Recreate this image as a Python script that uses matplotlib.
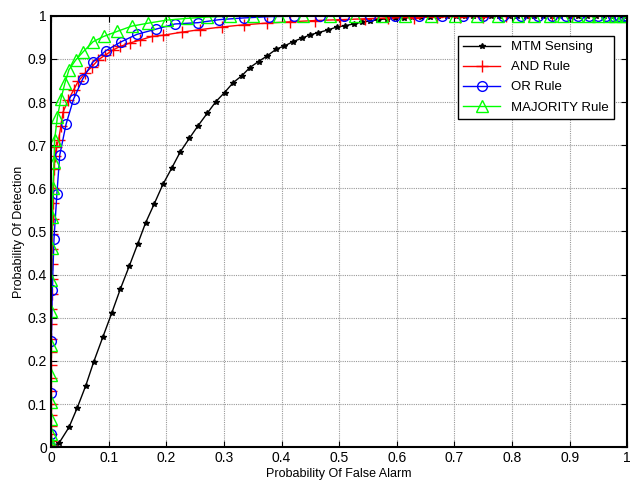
import matplotlib
matplotlib.use("Agg")
import matplotlib.pyplot as plt

plt.rcParams['font.family'] = ['Liberation Sans', 'DejaVu Sans']

# MTM sensing, single user
mtm_pf = [0, 0.014, 0.031, 0.045, 0.060, 0.074, 0.090, 0.105, 0.120, 0.136,
          0.150, 0.164, 0.179, 0.194, 0.209, 0.224, 0.240, 0.255, 0.271, 0.286,
          0.301, 0.316, 0.331, 0.345, 0.360, 0.375, 0.391, 0.405, 0.420, 0.435,
          0.450, 0.464, 0.480, 0.496, 0.510, 0.525, 0.539, 0.554, 0.568, 0.583,
          0.597, 0.612, 0.627, 0.642, 0.657, 0.672, 0.688, 0.703, 0.718, 0.733,
          0.748, 0.763, 0.778, 0.794, 0.809, 0.824, 0.839, 0.854, 0.869, 0.884,
          0.900, 0.915, 0.930, 0.945, 0.960, 0.975, 0.990, 1.0]
mtm_pd = [0, 0.010, 0.046, 0.090, 0.142, 0.198, 0.256, 0.310, 0.366, 0.421,
          0.470, 0.520, 0.564, 0.609, 0.646, 0.684, 0.716, 0.745, 0.774, 0.801,
          0.822, 0.845, 0.861, 0.880, 0.894, 0.907, 0.923, 0.930, 0.940, 0.948,
          0.956, 0.961, 0.967, 0.974, 0.977, 0.981, 0.985, 0.988, 0.991, 0.993,
          0.995, 0.996, 0.997, 0.998, 0.998, 0.999, 0.999, 0.999, 1.0, 1.0,
          1.0, 1.0, 1.0, 1.0, 1.0, 1.0, 1.0, 1.0, 1.0, 1.0,
          1.0, 1.0, 1.0, 1.0, 1.0, 1.0, 1.0, 1.0]

# AND rule
and_pf = [0, 0, 0, 0, 0, 0, 0, 0, 0, 0,
          0, 0, 0.0005, 0.0005, 0.001, 0.001, 0.0015, 0.002, 0.002, 0.003,
          0.003, 0.004, 0.005, 0.007, 0.009, 0.013, 0.017, 0.021, 0.030, 0.039,
          0.047, 0.059, 0.071, 0.082, 0.094, 0.108, 0.120, 0.137, 0.155, 0.175,
          0.195, 0.227, 0.259, 0.296, 0.334, 0.374, 0.415, 0.458, 0.502, 0.545,
          0.585, 0.630, 0.670, 0.710, 0.750, 0.790, 0.830, 0.870, 0.905, 0.940,
          0.970, 1.0]
and_pd = [0, 0.005, 0.015, 0.030, 0.050, 0.075, 0.100, 0.130, 0.160, 0.190,
          0.220, 0.250, 0.285, 0.320, 0.355, 0.390, 0.425, 0.460, 0.495, 0.530,
          0.565, 0.600, 0.644, 0.675, 0.695, 0.712, 0.745, 0.778, 0.805, 0.828,
          0.848, 0.867, 0.882, 0.898, 0.909, 0.921, 0.929, 0.937, 0.944, 0.952,
          0.955, 0.962, 0.968, 0.974, 0.979, 0.983, 0.986, 0.989, 0.991, 0.993,
          0.995, 0.996, 0.997, 0.998, 0.998, 0.999, 0.999, 1.0, 1.0, 1.0,
          1.0, 1.0]

# OR rule
or_pf = [0, 0, 0, 0.0005, 0.002, 0.005, 0.010, 0.015, 0.026, 0.039,
         0.055, 0.072, 0.095, 0.122, 0.149, 0.182, 0.215, 0.255, 0.292, 0.334,
         0.379, 0.422, 0.466, 0.509, 0.553, 0.597, 0.638, 0.678, 0.715, 0.750,
         0.785, 0.815, 0.845, 0.870, 0.893, 0.915, 0.934, 0.950, 0.964, 0.976,
         0.986, 0.994, 1.0]
or_pd = [0, 0.030, 0.125, 0.245, 0.365, 0.482, 0.587, 0.677, 0.749, 0.807,
         0.854, 0.892, 0.919, 0.940, 0.957, 0.969, 0.981, 0.984, 0.991, 0.995,
         0.998, 0.999, 1.0, 1.0, 1.0, 1.0, 1.0, 1.0, 1.0, 1.0,
         1.0, 1.0, 1.0, 1.0, 1.0, 1.0, 1.0, 1.0, 1.0, 1.0,
         1.0, 1.0, 1.0]

# MAJORITY rule
maj_pf = [0, 0, 0, 0, 0, 0, 0, 0, 0.0005, 0.001,
          0.002, 0.003, 0.005, 0.006, 0.011, 0.017, 0.024, 0.031, 0.043, 0.056,
          0.073, 0.091, 0.115, 0.140, 0.169, 0.201, 0.236, 0.270, 0.311, 0.351,
          0.395, 0.438, 0.484, 0.528, 0.574, 0.615, 0.659, 0.701, 0.739, 0.776,
          0.811, 0.838, 0.866, 0.889, 0.913, 0.933, 0.950, 0.968, 0.979, 0.991,
          1.0]
maj_pd = [0, 0.010, 0.030, 0.065, 0.105, 0.167, 0.237, 0.315, 0.387, 0.461,
          0.534, 0.600, 0.660, 0.712, 0.766, 0.807, 0.844, 0.875, 0.898, 0.917,
          0.940, 0.952, 0.964, 0.976, 0.983, 0.990, 0.994, 0.997, 0.999, 1.0,
          1.0, 1.0, 1.0, 1.0, 1.0, 1.0, 1.0, 1.0, 1.0, 1.0,
          1.0, 1.0, 1.0, 1.0, 1.0, 1.0, 1.0, 1.0, 1.0, 1.0,
          1.0]

ticks = [0, 0.1, 0.2, 0.3, 0.4, 0.5, 0.6, 0.7, 0.8, 0.9, 1]
tick_labels = ['0', '0.1', '0.2', '0.3', '0.4', '0.5', '0.6', '0.7', '0.8', '0.9', '1']

fig = plt.figure(figsize=(6.31, 4.93), dpi=100)
ax = fig.add_axes([0.081, 0.093, 0.913, 0.875])

ax.plot(mtm_pf, mtm_pd, color='k', lw=1, marker='*', ms=4, label='MTM Sensing')
ax.plot(and_pf, and_pd, color='r', lw=1, marker='+', ms=8, mew=1, label='AND Rule')
ax.plot(or_pf, or_pd, color='b', lw=1, marker='o', ms=7, mfc='none', mew=1, label='OR Rule')
ax.plot(maj_pf, maj_pd, color='#00ff00', lw=1, marker='^', ms=8, mfc='none', mew=1,
        label='MAJORITY Rule')

ax.set_xlim(0, 1)
ax.set_ylim(0, 1)
ax.set_xticks(ticks)
ax.set_xticklabels(tick_labels)
ax.set_yticks(ticks)
ax.set_yticklabels(tick_labels)
ax.tick_params(direction='in', top=True, right=True, labelsize=10, length=4, pad=3)
ax.grid(True, color='#999999', ls=(0, (1, 1)), lw=0.8)
for s in ax.spines.values():
    s.set_linewidth(1.5)

ax.set_xlabel('Probability Of False Alarm', fontsize=9, labelpad=2)
ax.set_ylabel('Probability Of Detection', fontsize=9, labelpad=2)

leg = ax.legend(loc='upper right', bbox_to_anchor=(0.977, 0.954), borderaxespad=0,
                fancybox=False, edgecolor='k', framealpha=1, fontsize=9.5,
                handlelength=2.8, labelspacing=0.6)
leg.get_frame().set_linewidth(1)

fig.savefig('out.png', dpi=100)
